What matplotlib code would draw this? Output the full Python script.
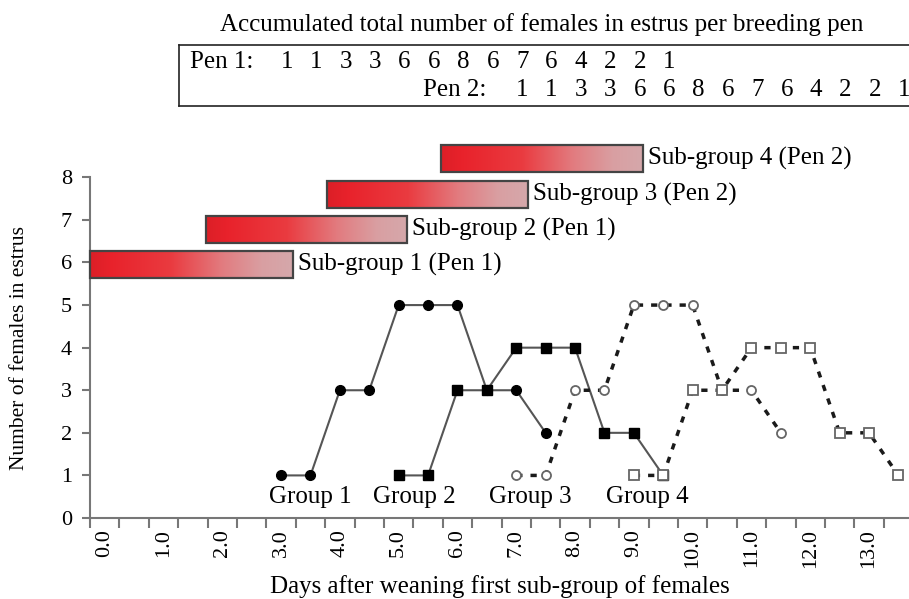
import numpy as np
import matplotlib
matplotlib.use("Agg")
import matplotlib.pyplot as plt
from matplotlib.colors import LinearSegmentedColormap
from matplotlib.patches import Rectangle
from matplotlib.lines import Line2D
from matplotlib.transforms import blended_transform_factory

plt.rcParams['font.family'] = ['Liberation Serif', 'DejaVu Serif']

# number of females in estrus per half-day, four sub-groups
group_start = [3.0, 5.0, 7.0, 9.0]
group_counts = [
    [1, 1, 3, 3, 5, 5, 5, 3, 3, 2],
    [1, 1, 3, 3, 4, 4, 4, 2, 2, 1],
    [1, 1, 3, 3, 5, 5, 5, 3, 3, 2],
    [1, 1, 3, 3, 4, 4, 4, 2, 2, 1],
]
group_names = ["Group 1", "Group 2", "Group 3", "Group 4"]
group_label_x = [3.5, 5.27, 7.24, 9.23]

# accumulated totals per pen
pen1_totals = [1, 1, 3, 3, 6, 6, 8, 6, 7, 6, 4, 2, 2, 1]
pen2_totals = [1, 1, 3, 3, 6, 6, 8, 6, 7, 6, 4, 2, 2, 1]
pen1_start = 3.0
pen2_start = 7.0

# sub-group periods (days) drawn as bars
bar_start = [-0.25, 1.72, 3.78, 5.72]
bar_end = [3.2, 5.14, 7.2, 9.16]
bar_y = [5.95, 6.77, 7.6, 8.44]
bar_names = ["Sub-group 1 (Pen 1)", "Sub-group 2 (Pen 1)",
             "Sub-group 3 (Pen 2)", "Sub-group 4 (Pen 2)"]
bar_h = 0.63

W, H = 909, 599
fig = plt.figure(figsize=(W / 100, H / 100), dpi=100)
ax = fig.add_axes([90 / W, 1 - 518 / H, (W - 90) / W, (518 - 139) / H])

fs = 18
fs_tick = 16

styles = [
    dict(color="#555555", lw=1.5, ls="-", marker="o", ms=7, mfc="black", mec="black"),
    dict(color="#555555", lw=1.5, ls="-", marker="s", ms=6.5, mfc="black", mec="black"),
    dict(color="#1a1a1a", lw=2.5, ls=(0, (1.8, 2.3)), marker="o", ms=6.5, mfc="white",
         mec="#666666", mew=1.3),
    dict(color="#1a1a1a", lw=2.5, ls=(0, (1.8, 2.3)), marker="s", ms=6.8, mfc="white",
         mec="#666666", mew=1.3),
]
for start, counts, st in zip(group_start, group_counts, styles):
    days = start + 0.5 * np.arange(len(counts))
    ax.plot(days, counts, zorder=3, **st)

for name, gx in zip(group_names, group_label_x):
    ax.text(gx, 0.5, name, ha="center", va="center", fontsize=fs)

# gradient bars
cmap = LinearSegmentedColormap.from_list(
    "fade", [(0, "#dc1f27"), (0.1, "#e8222b"), (0.4, "#ea3b40"),
             (0.65, "#e27b7f"), (0.85, "#d99fa2"), (1, "#d5a8ab")])
grad = np.linspace(0, 1, 256).reshape(1, -1)
for x0, x1, yc, name in zip(bar_start, bar_end, bar_y, bar_names):
    ax.imshow(grad, cmap=cmap, aspect="auto", extent=(x0, x1, yc - bar_h / 2, yc + bar_h / 2),
              zorder=4, clip_on=False, interpolation="bilinear")
    ax.add_patch(Rectangle((x0, yc - bar_h / 2), x1 - x0, bar_h, fill=False,
                           ec="#444444", lw=1.6, zorder=5, clip_on=False))
    ax.text(x1 + 0.08, yc, name, ha="left", va="center", fontsize=fs)
ax.set_xlim(-0.25, 13.68)
ax.set_ylim(0, 8.9)

# axes styling
grey = "#777777"
for s in ["top", "right"]:
    ax.spines[s].set_visible(False)
for s in ["left", "bottom"]:
    ax.spines[s].set_color(grey)
    ax.spines[s].set_linewidth(1.5)
ax.spines["left"].set_bounds(0, 8)

ax.set_yticks(range(0, 9))
ax.tick_params(axis="y", length=6, width=1.5, color=grey, labelsize=fs_tick, pad=7)

ax.set_xticks(np.arange(0, 14))
ax.set_xticklabels([f"{d:.1f}" for d in range(14)], rotation=90, fontsize=fs_tick)
ax.set_xticks(np.arange(-0.25, 13.7, 0.5), minor=True)
ax.tick_params(axis="x", which="major", length=0, pad=8)
ax.tick_params(axis="x", which="minor", length=7, width=1.5, color=grey)

ax.set_xlabel("Days after weaning first sub-group of females", fontsize=fs, va="top")
ax.xaxis.set_label_coords(0.5, -(575 - 518) / (518 - 139))
ax.set_ylabel("Number of females in estrus", fontsize=15.5)
ax.yaxis.set_label_coords(-(90 - 29) / (W - 90), 4 / 8.9)

# table of accumulated totals above the plot
fig.text(542 / W, 1 - 25 / H, "Accumulated total number of females in estrus per breeding pen",
         ha="center", va="center", fontsize=fs)
box_kw = dict(color="#222222", lw=1.2, transform=fig.transFigure)
fig.add_artist(Line2D([179 / W, 1.01], [1 - 45 / H] * 2, **box_kw))
fig.add_artist(Line2D([179 / W, 1.01], [1 - 106 / H] * 2, **box_kw))
fig.add_artist(Line2D([179 / W] * 2, [1 - 45 / H, 1 - 106 / H], **box_kw))

fig.text(190 / W, 1 - 62 / H, "Pen 1:", ha="left", va="center", fontsize=fs)
fig.text(423 / W, 1 - 90 / H, "Pen 2:", ha="left", va="center", fontsize=fs)
tr = blended_transform_factory(ax.transData, fig.transFigure)
for i, v in enumerate(pen1_totals):
    ax.text(pen1_start + 0.5 * i + 0.1, 1 - 62 / H, str(v), transform=tr,
            ha="center", va="center", fontsize=fs, clip_on=False)
for i, v in enumerate(pen2_totals):
    ax.text(pen2_start + 0.5 * i + 0.1, 1 - 90 / H, str(v), transform=tr,
            ha="center", va="center", fontsize=fs, clip_on=False)

fig.savefig("out.png", dpi=100)
